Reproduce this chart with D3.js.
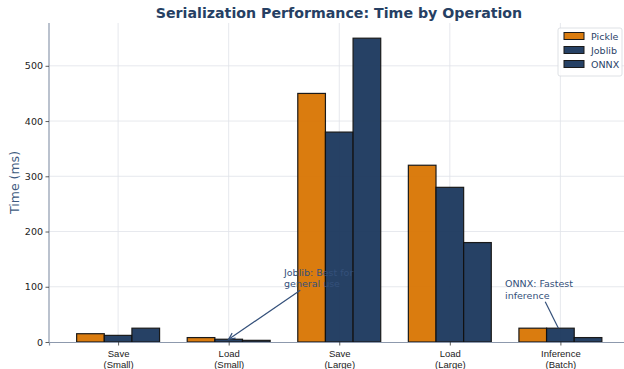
<!DOCTYPE html>
<html>
<head>
<meta charset="utf-8">
<script src="https://cdn.jsdelivr.net/npm/d3@7"></script>
<style>
  html, body { margin: 0; padding: 0; background: #fff; }
  svg { display: block; font-family: "DejaVu Sans", sans-serif; }
</style>
</head>
<body>
<svg id="chart" width="624" height="369"></svg>
<script>
// Operations and timings (ms) per serializer
const categories = ["Save\n(Small)", "Load\n(Small)", "Save\n(Large)", "Load\n(Large)", "Inference\n(Batch)"];
const seriesNames = ["Pickle", "Joblib", "ONNX"];
const pickleValues = [15, 8, 450, 320, 25];
const joblibValues = [12, 5, 380, 280, 25];
const onnxValues = [25, 3, 550, 180, 8];
const yTicks = [0, 100, 200, 300, 400, 500];
const seriesColors = ["#d97706", "#1e3a5f", "#1e3a5f"];

const series = [pickleValues, joblibValues, onnxValues];

const svg = d3.select("#chart");
const margin = { left: 49, top: 23, bottom: 342 };
const barWidth = 0.25;

const x = d3.scaleLinear().domain([-0.625, 4.625]).range([margin.left, 629.5]);
const y = d3.scaleLinear().domain([0, 577.5]).range([margin.bottom, margin.top]);

// grid
const grid = svg.append("g");
grid.selectAll("line.v").data(categories).join("line")
  .attr("x1", (d, i) => x(i)).attr("x2", (d, i) => x(i))
  .attr("y1", y(0)).attr("y2", y(577.5))
  .attr("stroke", "#dfe2e8").attr("stroke-width", 0.8);
grid.selectAll("line.h").data(yTicks.slice(1)).join("line")
  .attr("x1", x(-0.625)).attr("x2", x(4.625))
  .attr("y1", d => y(d)).attr("y2", d => y(d))
  .attr("stroke", "#dfe2e8").attr("stroke-width", 0.8);

// bars
series.forEach((vals, s) => {
  svg.append("g").selectAll("rect").data(vals).join("rect")
    .attr("x", (d, i) => x(i + (s - 1) * barWidth - barWidth / 2))
    .attr("width", x(barWidth) - x(0))
    .attr("y", d => y(d))
    .attr("height", d => y(0) - y(d))
    .attr("fill", seriesColors[s])
    .attr("stroke", "#111")
    .attr("stroke-width", 1.2)
    .attr("opacity", 0.96);
});

// annotations
const annColor = "#34507a";
function annotate(lines, left, cy, tx, ty, head) {
  const g = svg.append("g");
  const lh = 11.5;
  const t = g.append("text")
    .attr("x", left).attr("text-anchor", "start")
    .attr("font-size", 9.5).attr("fill", annColor);
  lines.forEach((s, k) => {
    t.append("tspan").attr("x", left)
      .attr("y", cy + (k - (lines.length - 1) / 2) * lh + 3.5)
      .text(s);
  });
  const bb = t.node().getBBox();
  const cx = bb.x + bb.width / 2;
  // start the arrow where the line from the text centre leaves its box
  const dx = tx - cx, dy = ty - cy;
  const s = Math.min(Math.abs((bb.height / 2 + 1) / dy), Math.abs((bb.width / 2 + 1) / dx));
  const sx = cx + dx * s, sy = cy + dy * s;
  g.append("line").attr("x1", sx).attr("y1", sy).attr("x2", tx).attr("y2", ty)
    .attr("stroke", annColor).attr("stroke-width", 1.2);
  if (head) {
    const ang = Math.atan2(ty - sy, tx - sx), L = 7, w = 0.45;
    const p1 = [tx - L * Math.cos(ang - w), ty - L * Math.sin(ang - w)];
    const p2 = [tx - L * Math.cos(ang + w), ty - L * Math.sin(ang + w)];
    g.append("polyline").attr("points", [p1, [tx, ty], p2].map(p => p.join(",")).join(" "))
      .attr("fill", "none").attr("stroke", annColor).attr("stroke-width", 1.2);
  }
}
annotate(["Joblib: Best for", "general use"], 284, 278, x(1), y(joblibValues[1]), true);
annotate(["ONNX: Fastest", "inference"], 505, 289.5, x(4) - 2, y(joblibValues[4]), false);

// axes
const spine = "#8d99ad";
const xAxis = svg.append("g").attr("transform", `translate(0,${margin.bottom})`)
  .call(d3.axisBottom(x).tickValues(d3.range(categories.length)).tickFormat("").tickSize(3.5));
xAxis.select(".domain").attr("stroke", spine).attr("stroke-width", 1.2);
xAxis.selectAll(".tick line").attr("stroke", "#333").attr("stroke-width", 0.8);
xAxis.selectAll(".tick").each(function (d) {
  const t = d3.select(this).append("text").attr("fill", "#222").attr("font-size", 9.5)
    .attr("text-anchor", "middle");
  categories[d].split("\n").forEach((s, k) => {
    t.append("tspan").attr("x", 0).attr("y", 14.5 + k * 11).text(s);
  });
});

const yAxis = svg.append("g").attr("transform", `translate(${margin.left},0)`)
  .call(d3.axisLeft(y).tickValues(yTicks).tickSize(3.5));
yAxis.select(".domain").attr("stroke", spine).attr("stroke-width", 1.2).attr("d", `M0,${y(577.5)}V${y(0)}`);
yAxis.selectAll(".tick line").attr("stroke", "#333").attr("stroke-width", 0.8);
yAxis.selectAll(".tick text").attr("fill", "#222").attr("font-size", 9.5)
  .attr("font-family", "DejaVu Sans, sans-serif").attr("x", -6);

// axis label and title
svg.append("text").attr("transform", `translate(19,${(margin.top + margin.bottom) / 2}) rotate(-90)`)
  .attr("text-anchor", "middle").attr("font-size", 12.5).attr("fill", "#3d5a80").text("Time (ms)");
svg.append("text").attr("x", 339).attr("y", 18).attr("text-anchor", "middle")
  .attr("font-size", 14.2).attr("font-weight", "bold").attr("fill", "#263f63")
  .text("Serialization Performance: Time by Operation");

// legend
const lg = svg.append("g").attr("transform", "translate(558,28)");
lg.append("rect").attr("width", 64).attr("height", 48).attr("rx", 2)
  .attr("fill", "#fff").attr("fill-opacity", 0.85).attr("stroke", "#d6d9de").attr("stroke-width", 0.8);
seriesNames.forEach((n, i) => {
  const row = lg.append("g").attr("transform", `translate(6,${8 + i * 14})`);
  row.append("rect").attr("width", 20).attr("height", 7).attr("y", -3.5)
    .attr("fill", seriesColors[i]).attr("stroke", "#111").attr("stroke-width", 1).attr("opacity", 0.96);
  row.append("text").attr("x", 27).attr("y", 3.5).attr("font-size", 9.5).attr("fill", "#2c4468").text(n);
});
</script>
</body>
</html>
